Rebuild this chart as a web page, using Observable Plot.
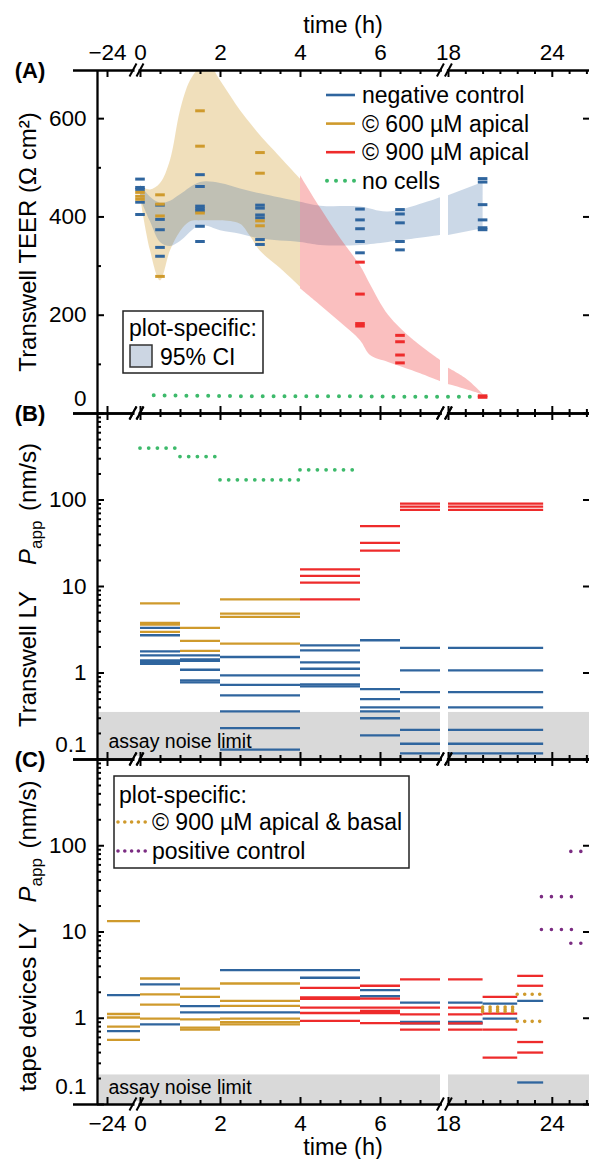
<!DOCTYPE html>
<html><head><meta charset="utf-8">
<script src="https://cdn.jsdelivr.net/npm/d3@7"></script>
<script src="https://cdn.jsdelivr.net/npm/@observablehq/plot@0.6"></script>
<style>
body{margin:0;background:#fff;}
#chart{position:relative;width:589px;height:1159px;overflow:hidden;background:#fff;font-family:"Liberation Sans",Arial,Helvetica,sans-serif;}
#chart svg{position:absolute;left:0;overflow:visible;}
</style></head><body><div id="chart"></div>
<script>
// ---------------- x axis (time, h) ----------------
const xMajorTicks = [-24, 0, 2, 4, 6, 18, 24];
const xTickLabels = ["\u221224", "0", "2", "4", "6", "18", "24"];
const xMinorTicks = [0.5, 1, 1.5, 2.5, 3, 3.5, 4.5, 5, 5.5, 6.5, 7, 19, 20, 21, 22, 23, 25, 26];

// ---------------- Panel A: Transwell TEER (Ω cm²) ----------------
const teerTimes = [0, 0.5, 1.5, 3, 5.5, 6.5, 20];
const teerNegative = [[477,460,456,430,405],[424,395,374,338,320],[486,462,422,417,412,381,350],[424,418,404,398,354,344],[416,394,376,350,327],[415,406,388,350,333],[478,471,425,394,378,374]];
const teer600 = [[450,442,436],[445,426,402,279],[616,544,408],[531,489,392,382],[],[],[]];
const teer900 = [[],[],[],[],[308,243,183,178],[159,146,119,103],[36,33]];
const noCellsTimes = [0.33, 1.5, 3, 5.5, 6.5, 19.5];
const noCellsTEER = [37, 36, 35, 35, 34, 34];
// 95% CI bands
const ciNegTimes = [0, 0.25, 0.5, 0.75, 1, 1.5, 2, 2.5, 3, 4, 4.5, 5.5, 6.2, 7.5, 18, 20];
const ciNegLow   = [437, 390, 348, 340, 350, 382, 372, 365, 355, 348, 342, 342, 348, 362, 362, 376];
const ciNegHigh  = [465, 440, 428, 432, 445, 470, 468, 457, 447, 430, 422, 420, 410, 439, 443, 470];
const ci600Times = [0, 0.25, 0.5, 0.75, 1, 1.25, 1.5, 1.7, 2, 2.5, 2.75, 3, 3.5, 4];
const ci600Low   = [440, 331, 270, 331, 370, 390, 392, 392, 392, 385, 360, 330, 295, 257];
const ci600High  = [462, 455, 468, 515, 616, 677, 704, 712, 677, 616, 590, 565, 521, 477];
const ci900Times = [4, 4.5, 5, 5.5, 5.75, 6.2, 6.8, 7.5, 18, 19, 20];
const ci900Low   = [254, 220, 185, 148, 118, 104, 87, 65, 59, 49, 38];
const ci900High  = [484, 418, 356, 300, 262, 200, 151, 108, 92, 71, 39];

// ---------------- Panel B: Transwell LY Papp (nm/s) ----------------
const bStarts = [0, 1, 2, 4, 5.5, 6.5];
const bEnds   = [1, 2, 4, 5.5, 6.5, 23.5];
const bNegative = [[3.32,2.73,1.78,1.60,1.40,1.34,1.28],[1.60,1.44,1.38,1.09,0.82,0.78],[1.53,0.94,0.73,0.55,0.36,0.23,0.13],[2.09,1.83,1.33,1.12,0.94,0.74,0.70],[2.39,0.65,0.50,0.40,0.36,0.30,0.19],[1.95,1.07,0.60,0.40,0.22,0.152,0.118]];
const b600 = [[6.37,3.80,3.62,2.99],[3.32,2.35,1.80],[7.09,4.87,4.46,2.19],[],[],[]];
const b900 = [[],[],[],[15.8,13.3,11.1,7.1],[50,32,26],[91,84,77]];
const bNoCells = [398, 318, 171, 223, null, null];
const bNoiseLimit = 0.35;

// ---------------- Panel C: tape devices LY Papp (nm/s) ----------------
const cStarts = [-24, 0, 1, 2, 4, 5.5, 6.5, 20, 22];
const cEnds   = [0, 1, 2, 4, 5.5, 6.5, 20, 22, 23.5];
const cNegative = [[1.85,0.71],[2.47,0.85],[1.38,1.17],[3.61,1.17],[3.61,2.95],[2.12,1.80],[1.52,0.91,0.87],[1.48,0.99],[1.59,0.18]];
const c600 = [[13.4,1.12,1.02,0.80,0.56],[2.89,1.89,1.44,0.99],[2.21,1.77,0.97,0.78,0.74],[2.53,1.59,1.39,0.99,0.90,0.85],[],[],[],[],[]];
const c900 = [[],[],[],[],[2.25,1.75,1.68,1.33,1.15,0.93],[2.38,1.69,1.33,1.22,1.15,0.88],[2.82,1.33,1.11,0.87,0.74],[1.77,1.13,0.74,0.35],[3.10,2.38,0.53,0.40]];
const c900Basal = [[],[],[],[],[],[],[],[1.35,1.27,1.2],[1.90,0.92]];
const cPosStarts = [23.4, 25.1];
const cPosEnds = [25.3, 27];
const cPositive = [[25.7, 10.7], [86, 7.4]];
const cNoiseLimit = 0.22;

// ---------------- styling / layout ----------------
const W = 589;
const FONT = '"Liberation Sans", Arial, Helvetica, sans-serif';
const FS = 22.5;
const C = {neg: "#2f659e", c600: "#cf9a2c", c900: "#ee2b2b", noCells: "#3dba6b", pos: "#7b2c82", noise: "#d9d9d9"};
// broken time axis: compressed pre-dose segment, gap between 7.5 h and 18 h
const BREAK_LO = 7.5, BREAK_HI = 18, PRE_SCALE = 0.034375, POST_GAP = 0.2, POST_SCALE = 0.4325;
function u(t) {
  if (t < 0) return t * PRE_SCALE;
  if (t <= BREAK_LO) return t;
  return BREAK_LO + POST_GAP + (t - BREAK_HI) * POST_SCALE;
}
const X_DOMAIN = [-1.075, 11.225], X_EXT_LEFT = -1.675, PX_PER_U = 40;
const BREAK_MARKS = [[-0.175, 0.0], [7.51, 7.71]];
const MARK_HALF = 0.12;

function segments(s, e) {
  if (s < BREAK_LO && e > BREAK_HI) return [[s, BREAK_LO], [BREAK_HI, e]];
  return [[s, e]];
}
function barRows(starts, ends, values) {
  const rows = [];
  values.forEach((vals, i) => {
    for (const v of vals) if (v != null) for (const [a, b] of segments(starts[i], ends[i])) rows.push({x1: u(a), x2: u(b), v});
  });
  return rows;
}
function bandRows(times, lo, hi) {
  return times.map((t, i) => ({x: u(t), lo: lo[i], hi: hi[i], seg: t <= BREAK_LO ? 0 : 1}));
}
function markerRows(times, values) {
  const rows = [];
  values.forEach((vals, i) => vals.forEach(v => rows.push({x: u(times[i]), v})));
  return rows;
}
function makeShift(cfg) {
  const span = cfg.h - cfg.mt - cfg.mb;
  if (cfg.type === "log") {
    const ppd = span / (Math.log10(cfg.domain[1]) - Math.log10(cfg.domain[0]));
    return (v, px) => v * Math.pow(10, px / ppd);
  }
  const ppu = span / (cfg.domain[1] - cfg.domain[0]);
  return (v, px) => v + px / ppu;
}
const logMinor = [];
for (let d = -1; d <= 2; d++) for (let k = 2; k <= 9; k++) logMinor.push(k * Math.pow(10, d));

function frameMarks(cfg, yMajor, yMinor) {
  const sh = makeShift(cfg);
  const [d0, d1] = cfg.domain;
  const k = {stroke: "black", strokeWidth: 2};
  return [
    Plot.ruleX(xMajorTicks, {x: d => u(d), y1: d0, y2: sh(d0, 7), ...k}),
    Plot.ruleX(xMajorTicks, {x: d => u(d), y1: d1, y2: sh(d1, -7), ...k}),
    Plot.ruleX(xMinorTicks, {x: d => u(d), y1: d0, y2: sh(d0, 4), ...k}),
    Plot.ruleX(xMinorTicks, {x: d => u(d), y1: d1, y2: sh(d1, -4), ...k}),
    Plot.ruleY(yMajor, {y: d => d, x1: X_DOMAIN[0], x2: X_DOMAIN[0] + 7 / PX_PER_U, ...k}),
    Plot.ruleY(yMinor, {y: d => d, x1: X_DOMAIN[0], x2: X_DOMAIN[0] + 4 / PX_PER_U, ...k}),
    Plot.ruleY(yMajor, {y: d => d, x1: X_DOMAIN[1] - 6 / PX_PER_U, x2: X_DOMAIN[1], ...k}),
    Plot.ruleY([d0, d1], {x1: X_EXT_LEFT, x2: X_DOMAIN[1], stroke: "black", strokeWidth: 2.3}),
    Plot.ruleX([X_DOMAIN[0]], {y1: d0, y2: d1, stroke: "black", strokeWidth: 2.3})
  ];
}
function yTickText(vals, labels, dy) {
  return Plot.text(vals, {x: X_DOMAIN[0], y: d => d, text: (d, i) => labels[i], textAnchor: "end", dx: -11, dy, fontSize: FS, fill: "black"});
}
function common(cfg) {
  return {
    width: W, height: cfg.h, marginLeft: 97, marginRight: 0, marginTop: cfg.mt, marginBottom: cfg.mb,
    x: {domain: X_DOMAIN, axis: null},
    y: {type: cfg.type, domain: cfg.domain, axis: null},
    style: {fontFamily: FONT, fontSize: FS + "px", background: "transparent", overflow: "visible", color: "black"}
  };
}
const bar = (rows, stroke, extra = {}) => Plot.ruleY(rows, {y: "v", x1: "x1", x2: "x2", stroke, strokeWidth: 2.3, ...extra});
const dash = (rows, stroke) => Plot.ruleY(rows, {y: "v", x1: d => d.x - MARK_HALF, x2: d => d.x + MARK_HALF, stroke, strokeWidth: 3});
const noiseRows = [{x1: X_DOMAIN[0], x2: u(BREAK_LO)}, {x1: u(BREAK_HI), x2: X_DOMAIN[1]}];

// ---------------- Panel A ----------------
const cfgA = {type: "linear", domain: [0, 698], top: 0, h: 420, mt: 70, mb: 7};
const bandOpts = {x: "x", y1: "lo", y2: "hi", z: "seg", curve: "catmull-rom", clip: true};
const plotA = Plot.plot({
  ...common(cfgA),
  marks: [
    Plot.areaY(bandRows(ci600Times, ci600Low, ci600High), {...bandOpts, fill: C.c600, fillOpacity: 0.32}),
    Plot.areaY(bandRows(ciNegTimes, ciNegLow, ciNegHigh), {...bandOpts, fill: C.neg, fillOpacity: 0.25}),
    Plot.areaY(bandRows(ci900Times, ci900Low, ci900High), {...bandOpts, fill: C.c900, fillOpacity: 0.3}),
    Plot.line(noCellsTimes.map((t, i) => ({x: u(t), v: noCellsTEER[i]})), {x: "x", y: "v", stroke: C.noCells, strokeWidth: 4, strokeDasharray: "0 10.9", strokeLinecap: "round"}),
    dash(markerRows(teerTimes, teerNegative), C.neg),
    dash(markerRows(teerTimes, teer600), C.c600),
    dash(markerRows(teerTimes, teer900), C.c900),
    ...frameMarks(cfgA, [0, 200, 400, 600], [100, 300, 500]),
    yTickText([200, 400, 600], ["200", "400", "600"], 0),
    yTickText([0], ["0"], -15),
    Plot.text(xMajorTicks, {x: d => u(d), y: cfgA.domain[1], text: (d, i) => xTickLabels[i], dy: -18, fontSize: FS, fill: "black"})
  ]
});

// ---------------- Panel B ----------------
const cfgB = {type: "log", domain: [0.1, 1000], top: 406, h: 360, mt: 7, mb: 7};
const bNoCellRows = barRows(bStarts, bEnds, bNoCells.map(v => v == null ? [] : [v]));
const plotB = Plot.plot({
  ...common(cfgB),
  marks: [
    Plot.rect(noiseRows, {x1: "x1", x2: "x2", y1: 0.1, y2: bNoiseLimit, fill: C.noise}),
    Plot.text(["assay noise limit"], {x: X_DOMAIN[0], y: 0.1, dx: 11, dy: -17.5, textAnchor: "start", fontSize: 19.5, fill: "black"}),
    Plot.ruleY(bNoCellRows, {y: "v", x1: "x1", x2: "x2", stroke: C.noCells, strokeWidth: 3.8, strokeDasharray: "0 8.7", strokeLinecap: "round"}),
    bar(barRows(bStarts, bEnds, bNegative), C.neg),
    bar(barRows(bStarts, bEnds, b600), C.c600),
    bar(barRows(bStarts, bEnds, b900), C.c900),
    ...frameMarks(cfgB, [0.1, 1, 10, 100, 1000], logMinor),
    yTickText([1, 10, 100], ["1", "10", "100"], 0),
    yTickText([0.1], ["0.1"], -15)
  ]
});

// ---------------- Panel C ----------------
const cfgC = {type: "log", domain: [0.1, 1000], top: 752, h: 407, mt: 7, mb: 55};
const plotC = Plot.plot({
  ...common(cfgC),
  marks: [
    Plot.rect(noiseRows, {x1: "x1", x2: "x2", y1: 0.1, y2: cNoiseLimit, fill: C.noise}),
    Plot.text(["assay noise limit"], {x: X_DOMAIN[0], y: 0.1, dx: 11, dy: -17, textAnchor: "start", fontSize: 19.5, fill: "black"}),
    bar(barRows(cStarts, cEnds, cNegative), C.neg),
    bar(barRows(cStarts, cEnds, c600), C.c600),
    bar(barRows(cStarts, cEnds, c900), C.c900),
    Plot.ruleY(barRows(cStarts, cEnds, c900Basal), {y: "v", x1: "x1", x2: "x2", stroke: C.c600, strokeWidth: 3.6, strokeDasharray: "0 7.5", strokeLinecap: "round"}),
    Plot.ruleY(barRows(cPosStarts, cPosEnds, cPositive), {y: "v", x1: "x1", x2: "x2", stroke: C.pos, strokeWidth: 3.6, strokeDasharray: "0 10", strokeLinecap: "round", clip: true}),
    ...frameMarks(cfgC, [0.1, 1, 10, 100, 1000], logMinor),
    yTickText([1, 10, 100], ["1", "10", "100"], 0),
    yTickText([0.1], ["0.1"], -18),
    Plot.text(xMajorTicks, {x: d => u(d), y: cfgC.domain[0], text: (d, i) => xTickLabels[i], dy: 19, fontSize: FS, fill: "black"})
  ]
});

const chart = document.getElementById("chart");
for (const [p, cfg] of [[plotA, cfgA], [plotB, cfgB], [plotC, cfgC]]) {
  p.style.top = cfg.top + "px";
  chart.appendChild(p);
  // axis break marks, placed through the plot's own scales
  let xs, ys;
  try { xs = p.scale("x"); ys = p.scale("y"); } catch (e) {}
  const fx = xs && xs.apply ? v => xs.apply(v) : d3.scaleLinear(X_DOMAIN, [97, W]);
  const fy = ys && ys.apply ? v => ys.apply(v) : (cfg.type === "log" ? d3.scaleLog(cfg.domain, [cfg.h - cfg.mb, cfg.mt]) : d3.scaleLinear(cfg.domain, [cfg.h - cfg.mb, cfg.mt]));
  const g = d3.select(p).append("g");
  for (const v of cfg.domain) {
    const y = fy(v);
    for (const pair of BREAK_MARKS) {
      const [a, b] = pair.map(fx);
      g.append("rect").attr("x", a + 1.5).attr("y", y - 3).attr("width", b - a - 3).attr("height", 6).attr("fill", "white");
      for (const cx of [a, b]) g.append("line").attr("x1", cx - 3.5).attr("y1", y + 6.5).attr("x2", cx + 3.5).attr("y2", y - 6.5).attr("stroke", "black").attr("stroke-width", 2);
    }
  }
}

// ---------------- overlay texts and legends ----------------
const LFS = 23;
const ov = d3.select(chart).append("svg").attr("width", W).attr("height", 1159).style("top", "0px")
  .attr("font-family", FONT).attr("font-size", FS).style("pointer-events", "none");
function txt(x, y, s, o = {}) {
  return ov.append("text").attr("x", x).attr("y", y).attr("dy", "0.35em").attr("text-anchor", o.anchor || "start")
    .attr("font-size", o.size || FS).attr("font-weight", o.weight || null).attr("fill", "black").text(s);
}
txt(343, 25, "time (h)", {anchor: "middle", size: 23.5});
txt(343, 1147, "time (h)", {anchor: "middle", size: 23.5});
txt(30, 70, "(A)", {anchor: "middle", weight: "bold", size: 22});
txt(30, 413, "(B)", {anchor: "middle", weight: "bold", size: 22});
txt(30, 759, "(C)", {anchor: "middle", weight: "bold", size: 22});

function yLabel(cy, before, gap) {
  const t = ov.append("text").attr("transform", `translate(36,${cy}) rotate(-90)`).attr("text-anchor", "middle")
    .attr("font-size", 24).attr("fill", "black");
  t.append("tspan").text(before);
  if (gap != null) {
    t.append("tspan").attr("dx", gap).attr("font-style", "italic").text("P");
    t.append("tspan").attr("font-size", 17).attr("dy", 6).text("app");
    t.append("tspan").attr("dy", -6).attr("dx", 3).text(" (nm/s)");
  }
}
yLabel(242, "Transwell TEER (\u03A9 cm\u00B2)", null);
yLabel(585, "Transwell LY", 26);
yLabel(936, "tape devices LY", 20);

// legend A
const legA = [["negative control", C.neg, null], ["\u00A9 600 \u00B5M apical", C.c600, null], ["\u00A9 900 \u00B5M apical", C.c900, null], ["no cells", C.noCells, "0 9"]];
legA.forEach(([s, col, da], i) => {
  const y = 95 + i * 28.6;
  ov.append("line").attr("x1", da ? 327 : 326).attr("x2", 355).attr("y1", y).attr("y2", y).attr("stroke", col)
    .attr("stroke-width", da ? 4 : 2.6).attr("stroke-dasharray", da).attr("stroke-linecap", da ? "round" : null);
  txt(362, y, s, {size: LFS});
});
ov.append("rect").attr("x", 123).attr("y", 311).attr("width", 140).attr("height", 62).attr("fill", "white").attr("stroke", "#222").attr("stroke-width", 1.5);
txt(129, 328, "plot-specific:", {size: LFS});
ov.append("rect").attr("x", 130).attr("y", 345).attr("width", 22).attr("height", 22).attr("fill", "#ccd6e3").attr("stroke", "#333").attr("stroke-width", 1.5);
txt(160, 357, "95% CI", {size: LFS});

// legend C
ov.append("rect").attr("x", 114).attr("y", 776).attr("width", 295).attr("height", 92).attr("fill", "white").attr("stroke", "#222").attr("stroke-width", 1.5);
txt(119, 795, "plot-specific:", {size: LFS});
[["\u00A9 900 \u00B5M apical & basal", C.c600, "0 6.8", 822], ["positive control", C.pos, "0 6.8", 851]].forEach(([s, col, da, y]) => {
  ov.append("line").attr("x1", 118).attr("x2", 146).attr("y1", y).attr("y2", y).attr("stroke", col).attr("stroke-width", 3.6)
    .attr("stroke-dasharray", da).attr("stroke-linecap", "round");
  txt(152, y, s, {size: LFS});
});
</script></body></html>
